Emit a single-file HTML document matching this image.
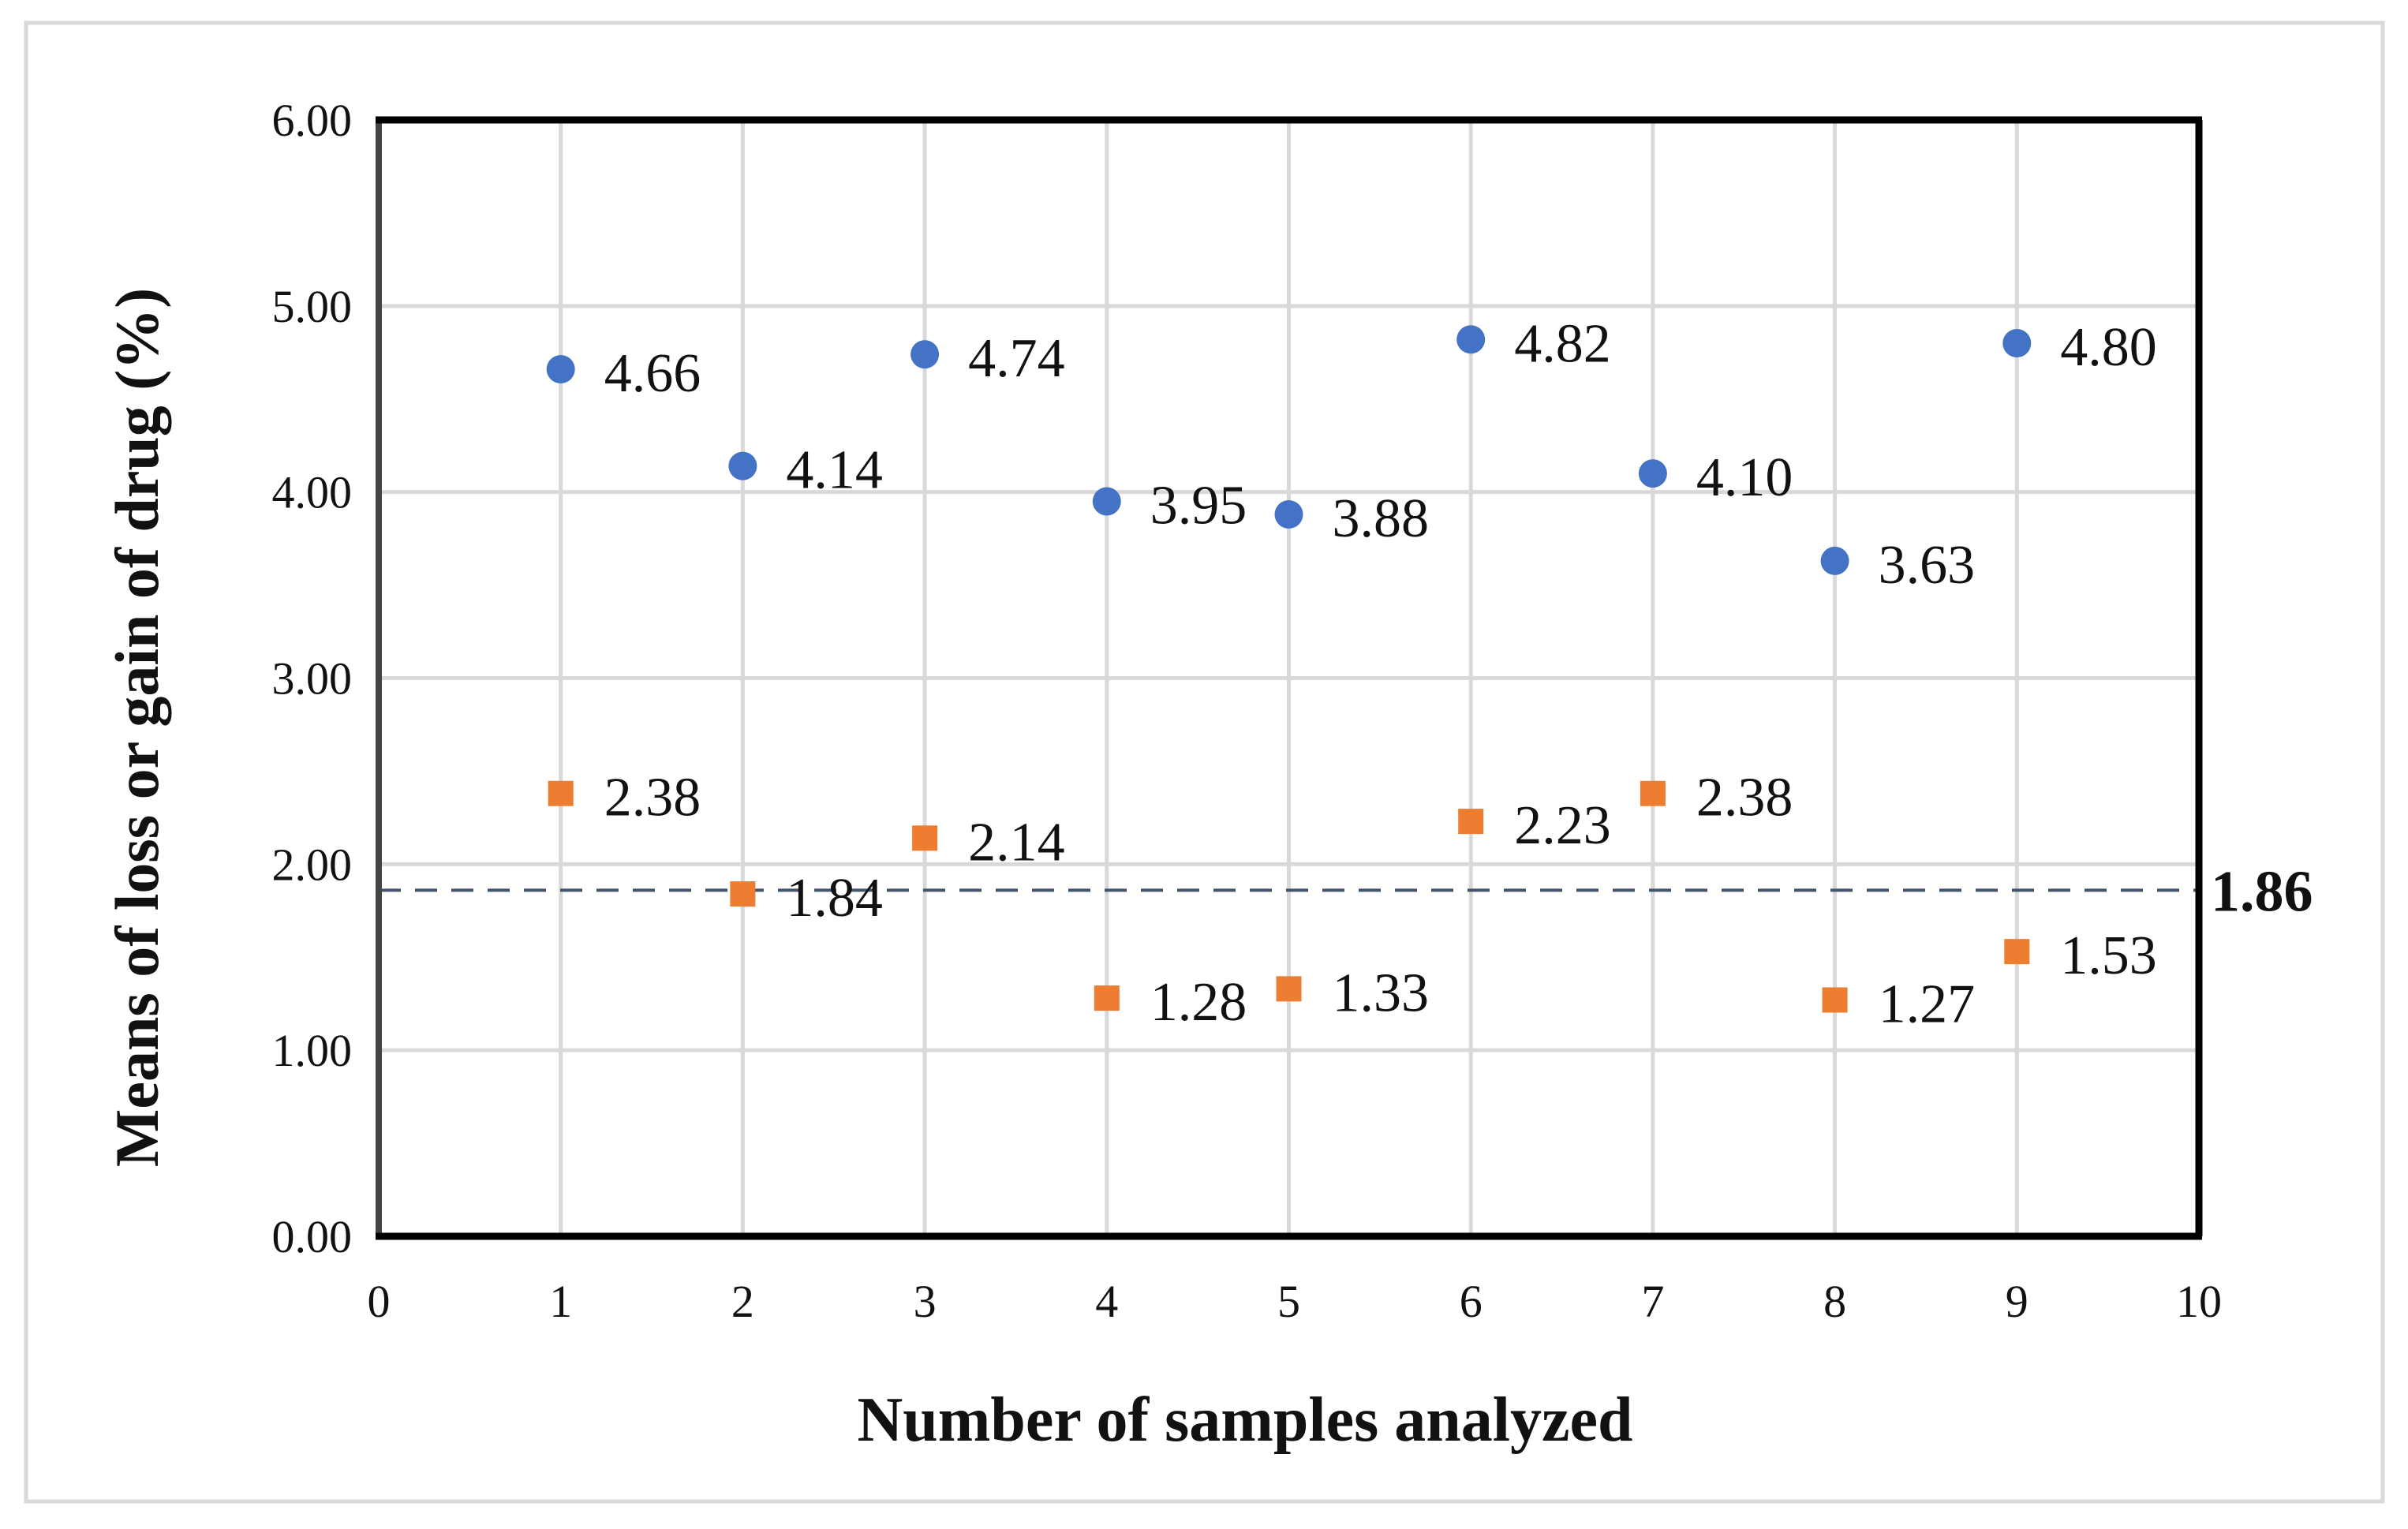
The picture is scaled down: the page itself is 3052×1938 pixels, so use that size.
<!DOCTYPE html>
<html><head><meta charset="utf-8"><style>
html,body{margin:0;padding:0;background:#fff}
svg{display:block}
text{font-family:"Liberation Serif",serif;fill:#111}
</style></head><body>
<svg id="chart" width="3052" height="1938" viewBox="0 0 3052 1938" xmlns="http://www.w3.org/2000/svg">
<rect x="33" y="29" width="2987" height="1874" fill="#fff" stroke="#d9d9d9" stroke-width="5"/>
<g id="grid"></g>
<g id="marks"></g>
<g id="axes"></g>
</svg>
<script>
const samples=[1,2,3,4,5,6,7,8,9];
const seriesA=[4.66,4.14,4.74,3.95,3.88,4.82,4.10,3.63,4.80];
const seriesB=[2.38,1.84,2.14,1.28,1.33,2.23,2.38,1.27,1.53];
const refValue=1.86;
const xTicks=[0,1,2,3,4,5,6,7,8,9,10];
const yTicks=[0,1,2,3,4,5,6];
const yTickLabels=["0.00","1.00","2.00","3.00","4.00","5.00","6.00"];
const L=480,R=2787,T=152,B=1567;
const X=v=>L+(R-L)*v/10, Y=v=>B-(B-T)*v/6;
const NS="http://www.w3.org/2000/svg";
function mk(tag,parent,attrs){const e=document.createElementNS(NS,tag);for(const k in attrs)e.setAttribute(k,attrs[k]);parent.appendChild(e);return e;}
const grid=document.getElementById('grid'),marks=document.getElementById('marks'),axes=document.getElementById('axes');
xTicks.forEach(v=>{
  const g=mk('line',grid,{x1:X(v),x2:X(v),y1:T,y2:B,stroke:'#d9d9d9','stroke-width':5});
  
  
  const t=mk('text',axes,{x:X(v),y:1669,'text-anchor':'middle','font-size':58});
  t.textContent=v;
  
  
});
yTicks.forEach((v,i)=>{
  const g=mk('line',grid,{x1:L,x2:R,y1:Y(v),y2:Y(v),stroke:'#d9d9d9','stroke-width':5});
  
  
  const t=mk('text',axes,{x:446,y:Y(v)+20,'text-anchor':'end','font-size':58});
  t.textContent=yTickLabels[i];
  
  
});
const rl=mk('line',marks,{x1:L,x2:R,y1:Y(refValue),y2:Y(refValue),stroke:'#44546a','stroke-width':4,'stroke-dasharray':'28 18'});


const rt=mk('text',axes,{x:2802,y:Y(refValue)+26,'font-size':74,'font-weight':'bold'});
rt.textContent=refValue.toFixed(2);


samples.forEach((s,i)=>{
  const c=mk('circle',marks,{cx:X(s),cy:Y(seriesA[i]),r:18,fill:'#4472c4'});
  
  
  const ta=mk('text',marks,{x:X(s)+55,y:Y(seriesA[i])+28,'font-size':70});
  ta.textContent=seriesA[i].toFixed(2);
  
  
  const q=mk('rect',marks,{x:X(s)-16,y:Y(seriesB[i])-16,width:32,height:32,fill:'#ed7d31'});
  
  
  const tb=mk('text',marks,{x:X(s)+55,y:Y(seriesB[i])+28,'font-size':70});
  tb.textContent=seriesB[i].toFixed(2);
  
  
});
let e;
e=mk('line',axes,{x1:L,x2:L,y1:T,y2:B,stroke:'#444','stroke-width':8});


e=mk('line',axes,{x1:L-4,x2:R+4,y1:B,y2:B,stroke:'#000','stroke-width':9});


e=mk('line',axes,{x1:L-4,x2:R+4,y1:T,y2:T,stroke:'#000','stroke-width':9});


e=mk('line',axes,{x1:R,x2:R,y1:T,y2:B,stroke:'#000','stroke-width':9});


e=mk('text',axes,{x:1578,y:1826,'text-anchor':'middle','font-size':80,'font-weight':'bold'});
e.textContent='Number of samples analyzed';


e=mk('text',axes,{x:0,y:0,'text-anchor':'middle','font-size':78,'font-weight':'bold',transform:'translate(200,922) rotate(-90)'});
e.textContent='Means of loss or gain of drug (%)';


</script>
</body></html>
